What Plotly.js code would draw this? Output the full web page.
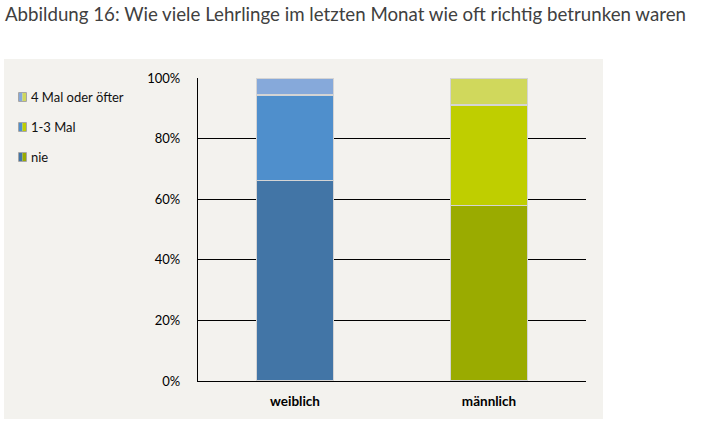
<!DOCTYPE html>
<html>
<head>
<meta charset="utf-8">
<script src="https://cdn.plot.ly/plotly-3.0.1.min.js"></script>
<style>html,body{margin:0;padding:0;background:#fff;}#chart{width:706px;height:426px;}</style>
</head>
<body>
<div id="chart"></div>
<script>
const categories = ["weiblich", "männlich"];
const seriesNames = ["nie", "1-3 Mal", "4 Mal oder öfter"];
const nie = [66.3, 57.9];
const einsBisDrei = [28.1, 33.2];
const vierPlus = [5.6, 8.9];
const yTickVals = [0, 20, 40, 60, 80, 100];
const yTickText = ["0%", "20%", "40%", "60%", "80%", "100%"];
const titleText = "Abbildung 16: Wie viele Lehrlinge im letzten Monat wie oft richtig betrunken waren";

const seriesValues = [nie, einsBisDrei, vierPlus];
const colors = [
  ["#4275A6", "#9AAB00"],
  ["#4F8FCC", "#BFCE00"],
  ["#86A9DA", "#D0D85C"]
];

const W = 706, H = 426;
const M = {l: 198, r: 120, t: 78, b: 45};
const PW = W - M.l - M.r, PH = H - M.t - M.b;
const px = x => (x - M.l) / PW;
const py = y => (H - M.b - y) / PH;

const traces = seriesValues.map((vals, i) => ({
  type: "bar",
  name: seriesNames[i],
  x: categories,
  y: vals,
  marker: {color: colors[i], line: {color: "#D4D4D4", width: 1.2}},
  showlegend: false,
  hoverinfo: "skip"
}));

const shapes = [
  {type: "rect", xref: "paper", yref: "paper", x0: px(4), x1: px(603), y0: py(59), y1: py(419),
   fillcolor: "#F3F2EE", line: {width: 0}, layer: "below"}
];
const annotations = [];
const legendY = [157, 127, 97];
seriesNames.forEach((name, i) => {
  const yc = legendY[i];
  shapes.push({type: "rect", xref: "paper", yref: "paper", x0: px(19), x1: px(22.5), y0: py(yc + 4), y1: py(yc - 4),
    fillcolor: colors[i][0], line: {width: 0}});
  shapes.push({type: "rect", xref: "paper", yref: "paper", x0: px(22.5), x1: px(26), y0: py(yc + 4), y1: py(yc - 4),
    fillcolor: colors[i][1], line: {width: 0}});
  shapes.push({type: "rect", xref: "paper", yref: "paper", x0: px(18.5), x1: px(26.5), y0: py(yc + 4.5), y1: py(yc - 4.5),
    fillcolor: "rgba(0,0,0,0)", line: {color: "#A6A6A6", width: 1}});
  annotations.push({xref: "paper", yref: "paper", x: px(28.5), y: py(yc), xanchor: "left", yanchor: "middle",
    text: name, showarrow: false, font: {family: "Lato, 'Open Sans', sans-serif", size: 13, color: "#111"}});
});

const layout = {
  width: W, height: H,
  margin: M,
  paper_bgcolor: "#ffffff",
  plot_bgcolor: "rgba(0,0,0,0)",
  barmode: "stack",
  bargap: 0.6,
  title: {text: titleText, x: 5 / W, xanchor: "left", xref: "container", y: 1 - 14 / H, yanchor: "middle", yref: "container",
    font: {family: "Lato, 'Open Sans', sans-serif", size: 18.7, color: "#404040"}},
  xaxis: {showline: true, linecolor: "#000", linewidth: 1.2, ticks: "", showgrid: false,
    tickfont: {family: "Lato, 'Open Sans', sans-serif", size: 13.5, color: "#000", weight: "bold"},
    ticklabelstandoff: 8, fixedrange: true},
  yaxis: {range: [0, 100], tickvals: yTickVals, ticktext: yTickText, showgrid: true, gridcolor: "#000", gridwidth: 1,
    showline: true, linecolor: "#000", linewidth: 1.2, ticks: "", zeroline: false,
    tickfont: {family: "Lato, 'Open Sans', sans-serif", size: 13, color: "#000"}, ticklabelstandoff: 14, fixedrange: true},
  shapes: shapes,
  annotations: annotations,
  showlegend: false
};

Plotly.newPlot("chart", traces, layout, {displayModeBar: false, staticPlot: true});
</script>
</body>
</html>
